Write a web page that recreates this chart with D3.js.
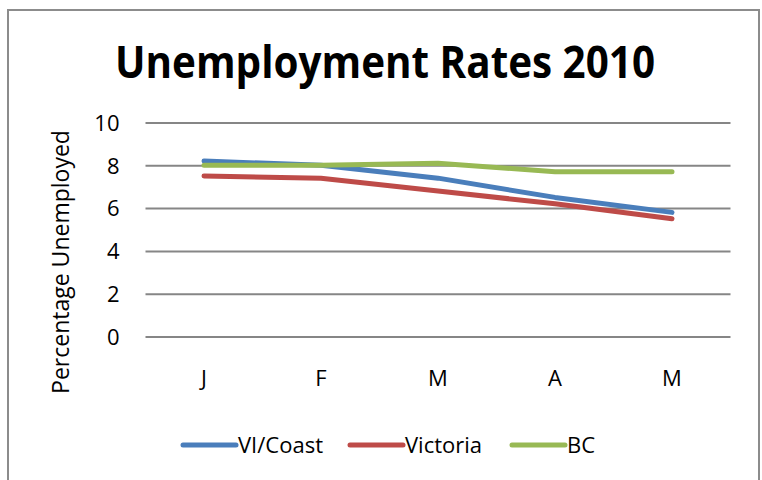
<!DOCTYPE html>
<html>
<head>
<meta charset="utf-8">
<script src="https://cdn.jsdelivr.net/npm/d3@7"></script>
<style>
  body { margin: 0; background: #fff; }
  svg text { font-family: "Open Sans", sans-serif; fill: #000; }
</style>
</head>
<body>
<script>
// Chart data
const months = ["J", "F", "M", "A", "M"];
const viCoast = [8.2, 8.0, 7.4, 6.5, 5.8];
const victoria = [7.5, 7.4, 6.8, 6.2, 5.5];
const bc = [8.0, 8.0, 8.1, 7.7, 7.7];
const yTicks = [0, 2, 4, 6, 8, 10];

const series = [
  { name: "VI/Coast", values: viCoast, color: "#4a7ebb" },
  { name: "Victoria", values: victoria, color: "#be4b48" },
  { name: "BC", values: bc, color: "#98b954" }
];

const W = 762, H = 480;
const margin = { top: 122.5, right: 31.5, bottom: 143.5, left: 145.5 };
const width = W - margin.left - margin.right;
const height = H - margin.top - margin.bottom;

const root = d3.select("body").append("svg")
  .attr("width", W)
  .attr("height", H);

// Outer chart border
root.append("rect")
  .attr("x", 8).attr("y", 10)
  .attr("width", 751).attr("height", 480)
  .attr("fill", "#fff")
  .attr("stroke", "#8c8c8c")
  .attr("stroke-width", 2);

// Title
root.append("text")
  .attr("x", 385).attr("y", 78)
  .attr("text-anchor", "middle")
  .attr("textLength", 540)
  .attr("lengthAdjust", "spacingAndGlyphs")
  .style("font-size", "44px")
  .style("font-weight", "bold")
  .text("Unemployment Rates 2010");

const svg = root.append("g")
  .attr("transform", `translate(${margin.left},${margin.top})`);

const x = d3.scaleBand()
  .domain(d3.range(months.length))
  .range([0, width]);

const y = d3.scaleLinear()
  .domain([0, 10])
  .range([height, 0]);

// Gridlines
svg.append("g")
  .call(d3.axisLeft(y).tickValues(yTicks).tickSize(-width).tickFormat(""))
  .call(g => g.select(".domain").remove())
  .call(g => g.selectAll("line").attr("stroke", "#868686").attr("stroke-width", 2));

// Y axis labels
svg.append("g")
  .call(d3.axisLeft(y).tickValues(yTicks).tickSize(0).tickPadding(26))
  .call(g => g.select(".domain").remove())
  .call(g => g.selectAll("text").style("font-size", "22px").attr("dy", "0.35em"));

// X axis labels
svg.append("g")
  .attr("transform", `translate(0,${height})`)
  .call(d3.axisBottom(x).tickSize(0).tickPadding(34).tickFormat(i => months[i]))
  .call(g => g.select(".domain").remove())
  .call(g => g.selectAll("text").style("font-size", "22px"));

// Y axis title
root.append("text")
  .attr("transform", "translate(69,262) rotate(-90)")
  .attr("text-anchor", "middle")
  .style("font-size", "23px")
  .text("Percentage Unemployed");

// Lines
const line = d3.line()
  .x((d, i) => x(i) + x.bandwidth() / 2)
  .y(d => y(d));

svg.selectAll(".series")
  .data(series)
  .enter().append("path")
  .attr("class", "series")
  .attr("d", d => line(d.values))
  .attr("fill", "none")
  .attr("stroke", d => d.color)
  .attr("stroke-width", 5)
  .attr("stroke-linecap", "round")
  .attr("stroke-linejoin", "round");

// Legend
const legendX = [183, 350, 512];
const legend = root.append("g")
  .attr("transform", "translate(0,445)");

const item = legend.selectAll(".item")
  .data(series)
  .enter().append("g")
  .attr("class", "item")
  .attr("transform", (d, i) => `translate(${legendX[i]},0)`);

item.append("line")
  .attr("x1", 0).attr("x2", 53)
  .attr("stroke", d => d.color)
  .attr("stroke-width", 5)
  .attr("stroke-linecap", "round");

item.append("text")
  .attr("x", 55)
  .attr("dy", "0.35em")
  .style("font-size", "22px")
  .text(d => d.name);
</script>
</body>
</html>
